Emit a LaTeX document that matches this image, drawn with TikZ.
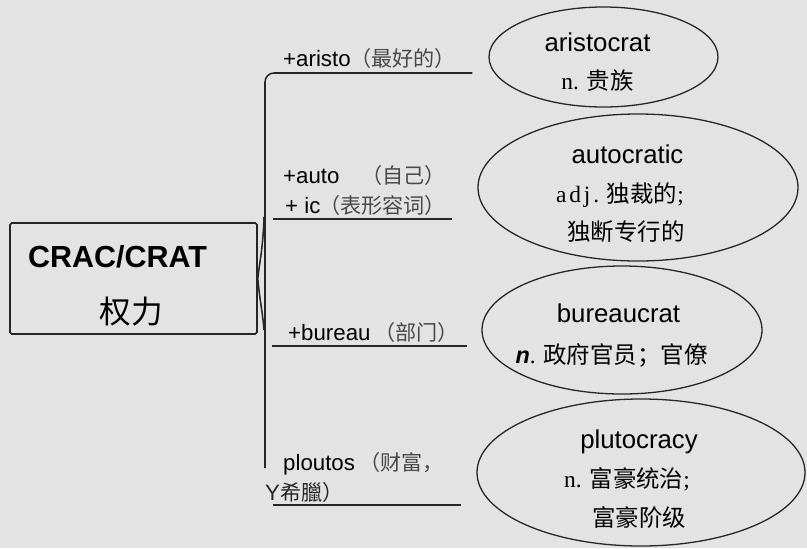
\documentclass[tikz,border=0pt]{standalone}
\usepackage{fontspec}
\usepackage{xcolor}
\usetikzlibrary{shapes.geometric,calc}
\setmainfont{Liberation Serif}
\newfontfamily\en{Liberation Sans}
\newfontfamily\cjk{Noto Sans CJK SC}
\definecolor{paper}{RGB}{227,227,227}
\definecolor{ink}{RGB}{38,38,38}
\definecolor{inkgray}{RGB}{72,72,72}

\begin{document}
\begin{tikzpicture}[
    x=0.03cm,y=-0.03cm,
    inkline/.style={draw=ink,line width=1.3pt},
    rootbox/.style={draw=ink,line width=1.4pt,rounded corners=1.5pt,minimum width=7.41cm,minimum height=3.33cm,inner sep=0pt},
    oval/.style={draw=ink,line width=1.1pt,ellipse,inner sep=0pt},
    word/.style={anchor=base,inner sep=0pt,font=\en\fontsize{22}{26}\selectfont},
    mean/.style={anchor=base,inner sep=0pt,font=\fontsize{20}{24}\selectfont},
    tag/.style={anchor=base west,inner sep=0pt,font=\en\fontsize{19}{22}\selectfont},
    gloss/.style={anchor=base west,inner sep=0pt,text=inkgray,font=\cjk\fontsize{18}{21}\selectfont}
  ]
    \fill[paper] (0,0) rectangle (807,548);
    \useasboundingbox (0,0) rectangle (807,548);

    \node[rootbox] (root) at (133.5,278.5) {};
    \node[anchor=base west,inner sep=0pt,font=\en\bfseries\fontsize{26}{30}\selectfont] (crat) at (28,267) {CRAC/CRAT};
    \node[inner sep=0pt,font=\cjk\fontsize{27}{31}\selectfont] (power) at (131.5,312) {权力};

    \node[oval,minimum width=6.87cm,minimum height=3cm] (e1) at (603.5,57) {};
    \node[oval,minimum width=9.6cm,minimum height=4.41cm] (e2) at (638,187.5) {};
    \node[oval,minimum width=8.4cm,minimum height=3.84cm] (e3) at (622,330) {};
    \node[oval,minimum width=9.84cm,minimum height=4.41cm] (e4) at (641,472.5) {};

    \node[word] (aristocrat) at (597.5,51) {aristocrat};
    \node[mean] (m1) at (597.5,89) {n. {\cjk 贵族}};
    \node[word] (autocratic) at (627.5,163) {autocratic};
    \node[mean] (m2a) at (620,202) {{\addfontfeatures{LetterSpace=12}adj.} {\cjk 独裁的};};
    \node[mean] (m2b) at (626,240) {\cjk 独断专行的};
    \node[word] (bureaucrat) at (618.5,322) {bureaucrat};
    \node[mean] (m3) at (611.5,363) {{\en\bfseries\itshape n}. {\cjk 政府官员；官僚}};
    \node[word] (plutocracy) at (639,448) {plutocracy};
    \node[mean] (m4a) at (627,487) {n. {\cjk 富豪统治};};
    \node[mean] (m4b) at (639,526) {\cjk 富豪阶级};

    \node[tag] (aristo) at (283,66) {+aristo};
    \node[gloss] (g1) at (350,66) {（最好的）};
    \node[tag] (auto) at (283,183) {+auto};
    \node[gloss] (g2a) at (361,183) {（自己）};
    \node[tag] (ic) at (285,213) {+ ic};
    \node[gloss] (g2b) at (319,213) {（表形容词）};
    \node[tag] (bureau) at (288,340) {+bureau};
    \node[gloss] (g3) at (374,340) {（部门）};
    \node[tag] (ploutos) at (283,470) {ploutos};
    \node[gloss] (g4a) at (359,470) {（财富，};
    \node[gloss,text=ink] (g4b) at (265,500) {{\en\fontsize{19}{22}\selectfont Y}希臘）};

    \coordinate (ttop) at (265,73);
    \coordinate (tbot) at (265,468);
    \coordinate (braceup) at (264,217);
    \coordinate (bracedown) at (264,330);
    \coordinate (b2) at (273,219);
    \coordinate (b3) at (272,346);
    \coordinate (b4) at (273,505);

    \draw[inkline,rounded corners=0.27cm,shorten >=0.48cm] (tbot) -- (ttop) -- (ttop -| e1.west);
    \draw[inkline] (braceup) .. controls (263,250) and (259,265) .. (root.east) .. controls (259,295) and (263,315) .. (bracedown);
    \draw[inkline,shorten >=0.75cm] (b2) -- (b2 -| e2.west);
    \draw[inkline,shorten >=0.42cm] (b3) -- (b3 -| e3.west);
    \draw[inkline,shorten >=0.45cm] (b4) -- (b4 -| e4.west);
  \end{tikzpicture}
\end{document}
